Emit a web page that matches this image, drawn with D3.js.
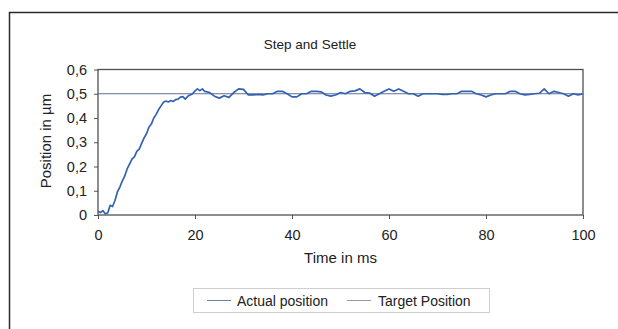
<!DOCTYPE html>
<html><head><meta charset="utf-8">
<script src="https://cdn.jsdelivr.net/npm/d3@7"></script>
<style>body{margin:0;background:#fff}svg{display:block}text{font-family:"Liberation Sans",Arial,sans-serif;fill:#222}</style>
</head><body><svg id="c" width="618" height="329"></svg>
<script>
const chartTitle = "Step and Settle";
const xTicks = [0, 20, 40, 60, 80, 100];
const yTicks = [0, 0.1, 0.2, 0.3, 0.4, 0.5, 0.6];
const targetPosition = 0.5;
const timeMs = [0,0.5,1,1.5,2,2.5,3,3.5,4,4.5,5,5.5,6,6.5,7,7.5,8,8.5,9,9.5,10,10.5,11,11.5,12,12.5,13,13.5,14,14.5,15,15.5,16,16.5,17,17.5,18,18.5,19,19.5,20,20.5,21,21.5,
22,23,24,25,26,27,28,29,30,31,32,33,34,35,36,37,38,39,40,41,42,43,44,45,46,47,48,49,50,51,52,53,54,55,56,57,58,59,60,61,62,63,64,65,66,67,68,69,70,71,72,73,74,75,76,77,78,79,80,81,82,83,84,85,86,87,88,89,90,91,92,93,94,95,96,97,98,99,100];
const actualPosition = [0.015,0.010,0.018,0.005,0.008,0.040,0.035,0.060,0.095,0.115,0.140,0.160,0.190,0.210,0.230,0.240,0.262,0.272,0.295,0.318,0.335,0.362,0.375,0.400,0.415,0.435,0.450,0.465,0.470,0.466,0.472,0.468,0.476,0.478,0.486,0.488,0.478,0.490,0.495,0.500,0.512,0.520,0.513,0.520,
0.510,0.505,0.490,0.482,0.492,0.485,0.505,0.520,0.518,0.495,0.495,0.497,0.495,0.500,0.500,0.510,0.510,0.500,0.487,0.487,0.500,0.500,0.510,0.510,0.508,0.495,0.490,0.495,0.505,0.500,0.510,0.512,0.520,0.505,0.503,0.490,0.500,0.510,0.520,0.510,0.520,0.510,0.500,0.500,0.490,0.500,0.500,0.500,0.500,0.497,0.497,0.500,0.500,0.510,0.510,0.510,0.500,0.495,0.487,0.495,0.500,0.500,0.500,0.510,0.510,0.500,0.495,0.497,0.500,0.502,0.520,0.500,0.510,0.505,0.500,0.490,0.500,0.495,0.500];
const legendLabels = ["Actual position", "Target Position"];

const svg = d3.select("#c");
const L = 98, R = 583, T = 69.5, B = 215;
const x = d3.scaleLinear().domain([0, 100]).range([L, R]);
const y = d3.scaleLinear().domain([0, 0.6]).range([B, T]);

svg.append("path").attr("d", "M9.5,329V12.5H618").attr("fill", "none").attr("stroke", "#2a2a2a").attr("stroke-width", 1.5);

svg.append("text").attr("x", 310).attr("y", 49).attr("text-anchor", "middle").attr("font-size", 13.5).text(chartTitle);

const fmt = v => v === 0 ? "0" : d3.format(".1f")(v).replace(".", ",");

const gy = svg.append("g").attr("transform", `translate(${L},0)`)
  .call(d3.axisLeft(y).tickValues(yTicks).tickFormat(fmt).tickSize(4).tickPadding(7));
const gx = svg.append("g").attr("transform", `translate(0,${B})`)
  .call(d3.axisBottom(x).tickValues(xTicks).tickSize(4).tickPadding(11));
[gx, gy].forEach(g => {
  g.select(".domain").remove();
  g.selectAll("line").attr("stroke", "#555");
  g.selectAll("text").attr("font-size", 14.5).attr("font-family", '"Liberation Sans",Arial,sans-serif').attr("fill", "#222");
});

svg.append("rect").attr("x", L).attr("y", T).attr("width", R - L).attr("height", B - T)
  .attr("fill", "none").attr("stroke", "#505050").attr("stroke-width", 1.3);

svg.append("line").attr("x1", x(0)).attr("x2", x(100)).attr("y1", y(targetPosition)).attr("y2", y(targetPosition))
  .attr("stroke", "#5f6f92").attr("stroke-width", 1);

const pts = timeMs.map((t, i) => [t, actualPosition[i]]);
svg.append("path").datum(pts)
  .attr("d", d3.line().x(d => x(d[0])).y(d => y(d[1])).curve(d3.curveLinear))
  .attr("fill", "none").attr("stroke", "#3462b2").attr("stroke-width", 1.7).attr("stroke-linejoin", "round");

svg.append("text").attr("x", (L + R) / 2).attr("y", 263).attr("text-anchor", "middle").attr("font-size", 15).text("Time in ms");
svg.append("text").attr("transform", `translate(51,141) rotate(-90)`).attr("text-anchor", "middle").attr("font-size", 15).text("Position in µm");

const lg = svg.append("g");
lg.append("rect").attr("x", 193.5).attr("y", 288.5).attr("width", 296).attr("height", 24)
  .attr("fill", "#fff").attr("stroke", "#cfcfcf");
const lx = [207, 347], tx = [237, 378], lc = ["#6c82ad", "#9a9a9a"];
legendLabels.forEach((lab, i) => {
  lg.append("line").attr("x1", lx[i]).attr("x2", lx[i] + 24).attr("y1", 300.5).attr("y2", 300.5).attr("stroke", lc[i]);
  lg.append("text").attr("x", tx[i]).attr("y", 305.5).attr("font-size", 14).text(lab);
});
</script></body></html>
